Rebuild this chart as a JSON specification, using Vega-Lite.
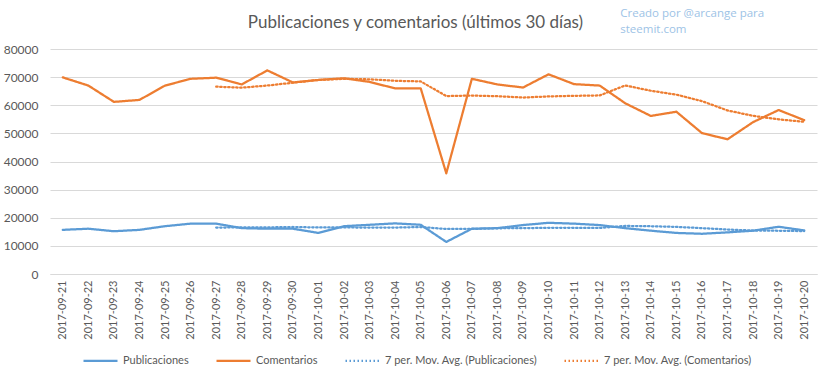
{
  "$schema": "https://vega.github.io/schema/vega-lite/v6.json",
  "width": 767,
  "height": 225,
  "autosize": {"type": "none"},
  "padding": {"left": 50, "top": 49, "right": 15, "bottom": 104},
  "background": "white",
  "config": {
    "font": "Lato",
    "view": {"stroke": null},
    "axis": {"labelFont": "Lato", "labelColor": "#595959", "titleColor": "#595959"},
    "legend": {"labelFont": "Lato", "labelColor": "#595959"}
  },
  "title": {
    "text": "Publicaciones y comentarios (últimos 30 días)",
    "font": "Lato",
    "fontSize": 17,
    "fontWeight": "normal",
    "color": "#595959",
    "anchor": "middle",
    "frame": "group",
    "baseline": "alphabetic",
    "dx": -18,
    "dy": 51,
    "offset": 14
  },
  "data": {
    "values": [
      {"d": "2017-09-21", "s": "Publicaciones", "v": 15700},
      {"d": "2017-09-22", "s": "Publicaciones", "v": 16100},
      {"d": "2017-09-23", "s": "Publicaciones", "v": 15200},
      {"d": "2017-09-24", "s": "Publicaciones", "v": 15700},
      {"d": "2017-09-25", "s": "Publicaciones", "v": 17000},
      {"d": "2017-09-26", "s": "Publicaciones", "v": 17900},
      {"d": "2017-09-27", "s": "Publicaciones", "v": 17900},
      {"d": "2017-09-28", "s": "Publicaciones", "v": 16300},
      {"d": "2017-09-29", "s": "Publicaciones", "v": 16100},
      {"d": "2017-09-30", "s": "Publicaciones", "v": 16100},
      {"d": "2017-10-01", "s": "Publicaciones", "v": 14600},
      {"d": "2017-10-02", "s": "Publicaciones", "v": 17000},
      {"d": "2017-10-03", "s": "Publicaciones", "v": 17500},
      {"d": "2017-10-04", "s": "Publicaciones", "v": 18000},
      {"d": "2017-10-05", "s": "Publicaciones", "v": 17500},
      {"d": "2017-10-06", "s": "Publicaciones", "v": 11400},
      {"d": "2017-10-07", "s": "Publicaciones", "v": 16100},
      {"d": "2017-10-08", "s": "Publicaciones", "v": 16300},
      {"d": "2017-10-09", "s": "Publicaciones", "v": 17400},
      {"d": "2017-10-10", "s": "Publicaciones", "v": 18200},
      {"d": "2017-10-11", "s": "Publicaciones", "v": 17900},
      {"d": "2017-10-12", "s": "Publicaciones", "v": 17400},
      {"d": "2017-10-13", "s": "Publicaciones", "v": 16300},
      {"d": "2017-10-14", "s": "Publicaciones", "v": 15400},
      {"d": "2017-10-15", "s": "Publicaciones", "v": 14600},
      {"d": "2017-10-16", "s": "Publicaciones", "v": 14300},
      {"d": "2017-10-17", "s": "Publicaciones", "v": 14800},
      {"d": "2017-10-18", "s": "Publicaciones", "v": 15400},
      {"d": "2017-10-19", "s": "Publicaciones", "v": 16800},
      {"d": "2017-10-20", "s": "Publicaciones", "v": 15500},
      {"d": "2017-09-21", "s": "Comentarios", "v": 69900},
      {"d": "2017-09-22", "s": "Comentarios", "v": 67000},
      {"d": "2017-09-23", "s": "Comentarios", "v": 61200},
      {"d": "2017-09-24", "s": "Comentarios", "v": 61900},
      {"d": "2017-09-25", "s": "Comentarios", "v": 67000},
      {"d": "2017-09-26", "s": "Comentarios", "v": 69400},
      {"d": "2017-09-27", "s": "Comentarios", "v": 69800},
      {"d": "2017-09-28", "s": "Comentarios", "v": 67400},
      {"d": "2017-09-29", "s": "Comentarios", "v": 72400},
      {"d": "2017-09-30", "s": "Comentarios", "v": 68100},
      {"d": "2017-10-01", "s": "Comentarios", "v": 69000},
      {"d": "2017-10-02", "s": "Comentarios", "v": 69600},
      {"d": "2017-10-03", "s": "Comentarios", "v": 68300},
      {"d": "2017-10-04", "s": "Comentarios", "v": 66000},
      {"d": "2017-10-05", "s": "Comentarios", "v": 66000},
      {"d": "2017-10-06", "s": "Comentarios", "v": 35800},
      {"d": "2017-10-07", "s": "Comentarios", "v": 69400},
      {"d": "2017-10-08", "s": "Comentarios", "v": 67400},
      {"d": "2017-10-09", "s": "Comentarios", "v": 66300},
      {"d": "2017-10-10", "s": "Comentarios", "v": 71000},
      {"d": "2017-10-11", "s": "Comentarios", "v": 67500},
      {"d": "2017-10-12", "s": "Comentarios", "v": 67000},
      {"d": "2017-10-13", "s": "Comentarios", "v": 60700},
      {"d": "2017-10-14", "s": "Comentarios", "v": 56200},
      {"d": "2017-10-15", "s": "Comentarios", "v": 57700},
      {"d": "2017-10-16", "s": "Comentarios", "v": 50100},
      {"d": "2017-10-17", "s": "Comentarios", "v": 47900},
      {"d": "2017-10-18", "s": "Comentarios", "v": 54000},
      {"d": "2017-10-19", "s": "Comentarios", "v": 58300},
      {"d": "2017-10-20", "s": "Comentarios", "v": 54700},
      {"d": "2017-09-27", "s": "7 per. Mov. Avg. (Publicaciones)", "v": 16500},
      {"d": "2017-09-28", "s": "7 per. Mov. Avg. (Publicaciones)", "v": 16586},
      {"d": "2017-09-29", "s": "7 per. Mov. Avg. (Publicaciones)", "v": 16586},
      {"d": "2017-09-30", "s": "7 per. Mov. Avg. (Publicaciones)", "v": 16714},
      {"d": "2017-10-01", "s": "7 per. Mov. Avg. (Publicaciones)", "v": 16557},
      {"d": "2017-10-02", "s": "7 per. Mov. Avg. (Publicaciones)", "v": 16557},
      {"d": "2017-10-03", "s": "7 per. Mov. Avg. (Publicaciones)", "v": 16500},
      {"d": "2017-10-04", "s": "7 per. Mov. Avg. (Publicaciones)", "v": 16514},
      {"d": "2017-10-05", "s": "7 per. Mov. Avg. (Publicaciones)", "v": 16686},
      {"d": "2017-10-06", "s": "7 per. Mov. Avg. (Publicaciones)", "v": 16014},
      {"d": "2017-10-07", "s": "7 per. Mov. Avg. (Publicaciones)", "v": 16014},
      {"d": "2017-10-08", "s": "7 per. Mov. Avg. (Publicaciones)", "v": 16257},
      {"d": "2017-10-09", "s": "7 per. Mov. Avg. (Publicaciones)", "v": 16314},
      {"d": "2017-10-10", "s": "7 per. Mov. Avg. (Publicaciones)", "v": 16414},
      {"d": "2017-10-11", "s": "7 per. Mov. Avg. (Publicaciones)", "v": 16400},
      {"d": "2017-10-12", "s": "7 per. Mov. Avg. (Publicaciones)", "v": 16386},
      {"d": "2017-10-13", "s": "7 per. Mov. Avg. (Publicaciones)", "v": 17086},
      {"d": "2017-10-14", "s": "7 per. Mov. Avg. (Publicaciones)", "v": 16986},
      {"d": "2017-10-15", "s": "7 per. Mov. Avg. (Publicaciones)", "v": 16743},
      {"d": "2017-10-16", "s": "7 per. Mov. Avg. (Publicaciones)", "v": 16300},
      {"d": "2017-10-17", "s": "7 per. Mov. Avg. (Publicaciones)", "v": 15814},
      {"d": "2017-10-18", "s": "7 per. Mov. Avg. (Publicaciones)", "v": 15457},
      {"d": "2017-10-19", "s": "7 per. Mov. Avg. (Publicaciones)", "v": 15371},
      {"d": "2017-10-20", "s": "7 per. Mov. Avg. (Publicaciones)", "v": 15257},
      {"d": "2017-09-27", "s": "7 per. Mov. Avg. (Comentarios)", "v": 66600},
      {"d": "2017-09-28", "s": "7 per. Mov. Avg. (Comentarios)", "v": 66243},
      {"d": "2017-09-29", "s": "7 per. Mov. Avg. (Comentarios)", "v": 67014},
      {"d": "2017-09-30", "s": "7 per. Mov. Avg. (Comentarios)", "v": 68000},
      {"d": "2017-10-01", "s": "7 per. Mov. Avg. (Comentarios)", "v": 69014},
      {"d": "2017-10-02", "s": "7 per. Mov. Avg. (Comentarios)", "v": 69386},
      {"d": "2017-10-03", "s": "7 per. Mov. Avg. (Comentarios)", "v": 69229},
      {"d": "2017-10-04", "s": "7 per. Mov. Avg. (Comentarios)", "v": 68686},
      {"d": "2017-10-05", "s": "7 per. Mov. Avg. (Comentarios)", "v": 68486},
      {"d": "2017-10-06", "s": "7 per. Mov. Avg. (Comentarios)", "v": 63257},
      {"d": "2017-10-07", "s": "7 per. Mov. Avg. (Comentarios)", "v": 63443},
      {"d": "2017-10-08", "s": "7 per. Mov. Avg. (Comentarios)", "v": 63214},
      {"d": "2017-10-09", "s": "7 per. Mov. Avg. (Comentarios)", "v": 62743},
      {"d": "2017-10-10", "s": "7 per. Mov. Avg. (Comentarios)", "v": 63129},
      {"d": "2017-10-11", "s": "7 per. Mov. Avg. (Comentarios)", "v": 63343},
      {"d": "2017-10-12", "s": "7 per. Mov. Avg. (Comentarios)", "v": 63486},
      {"d": "2017-10-13", "s": "7 per. Mov. Avg. (Comentarios)", "v": 67043},
      {"d": "2017-10-14", "s": "7 per. Mov. Avg. (Comentarios)", "v": 65157},
      {"d": "2017-10-15", "s": "7 per. Mov. Avg. (Comentarios)", "v": 63771},
      {"d": "2017-10-16", "s": "7 per. Mov. Avg. (Comentarios)", "v": 61457},
      {"d": "2017-10-17", "s": "7 per. Mov. Avg. (Comentarios)", "v": 58157},
      {"d": "2017-10-18", "s": "7 per. Mov. Avg. (Comentarios)", "v": 56229},
      {"d": "2017-10-19", "s": "7 per. Mov. Avg. (Comentarios)", "v": 54986},
      {"d": "2017-10-20", "s": "7 per. Mov. Avg. (Comentarios)", "v": 54129}
    ]
  },
  "layer": [
    {
      "mark": {"type": "line", "strokeCap": "round", "strokeJoin": "round"},
      "encoding": {
        "x": {
          "field": "d",
          "type": "ordinal",
          "scale": {"paddingOuter": 0.5},
          "axis": {
            "title": null,
            "labelAngle": -90,
            "labelFontSize": 11,
            "labelPadding": 6,
            "labelOverlap": false,
            "ticks": false,
            "domainColor": "#d9d9d9",
            "grid": false
          }
        },
        "y": {
          "field": "v",
          "type": "quantitative",
          "scale": {"domain": [0, 80000], "nice": false},
          "axis": {
            "title": null,
            "values": [0, 10000, 20000, 30000, 40000, 50000, 60000, 70000, 80000],
            "format": "d",
            "labelFontSize": 12,
            "labelPadding": 12,
            "labelOverlap": false,
            "ticks": false,
            "domain": false,
            "gridColor": "#d9d9d9",
            "gridWidth": 1
          }
        },
        "color": {
          "field": "s",
          "type": "nominal",
          "scale": {
            "domain": ["Publicaciones", "Comentarios", "7 per. Mov. Avg. (Publicaciones)", "7 per. Mov. Avg. (Comentarios)"],
            "range": ["#5B9BD5", "#ED7D31", "#5B9BD5", "#ED7D31"]
          },
          "legend": {
            "title": null,
            "orient": "none",
            "legendX": 32,
            "legendY": 293,
            "direction": "horizontal",
            "columns": 4,
            "symbolType": "stroke",
            "symbolSize": 1156,
            "symbolStrokeWidth": 2,
            "labelFontSize": 11,
            "labelOffset": 4,
            "columnPadding": 23
          }
        },
        "strokeDash": {
          "field": "s",
          "type": "nominal",
          "scale": {
            "domain": ["Publicaciones", "Comentarios", "7 per. Mov. Avg. (Publicaciones)", "7 per. Mov. Avg. (Comentarios)"],
            "range": [[1, 0], [1, 0], [1.5, 2.5], [1.5, 2.5]]
          },
          "legend": {
            "title": null,
            "orient": "none",
            "legendX": 32,
            "legendY": 293,
            "direction": "horizontal",
            "columns": 4,
            "symbolType": "stroke",
            "symbolSize": 1156,
            "symbolStrokeWidth": 2,
            "labelFontSize": 11,
            "labelOffset": 4,
            "columnPadding": 23
          }
        },
        "strokeWidth": {
          "field": "s",
          "type": "nominal",
          "scale": {
            "domain": ["Publicaciones", "Comentarios", "7 per. Mov. Avg. (Publicaciones)", "7 per. Mov. Avg. (Comentarios)"],
            "range": [2.25, 2.25, 1.75, 1.75]
          },
          "legend": null
        }
      }
    },
    {
      "data": {"values": [{"note": "Creado por @arcange para steemit.com"}]},
      "mark": {
        "type": "text",
        "text": ["Creado por @arcange para", "steemit.com"],
        "font": "Open Sans",
        "fontSize": 11.5,
        "fontWeight": "normal",
        "fill": "#9DC3E6",
        "align": "left",
        "baseline": "top",
        "lineHeight": 16,
        "dx": -5,
        "dy": -41
      },
      "encoding": {
        "x": {
          "datum": "2017-10-13",
          "type": "ordinal",
          "axis": {
            "title": null,
            "labelAngle": -90,
            "labelFontSize": 11,
            "labelPadding": 6,
            "labelOverlap": false,
            "ticks": false,
            "domainColor": "#d9d9d9",
            "grid": false
          }
        },
        "y": {
          "datum": 80000,
          "type": "quantitative",
          "axis": {
            "title": null,
            "values": [0, 10000, 20000, 30000, 40000, 50000, 60000, 70000, 80000],
            "format": "d",
            "labelFontSize": 12,
            "labelPadding": 12,
            "labelOverlap": false,
            "ticks": false,
            "domain": false,
            "gridColor": "#d9d9d9",
            "gridWidth": 1
          }
        }
      }
    }
  ]
}
